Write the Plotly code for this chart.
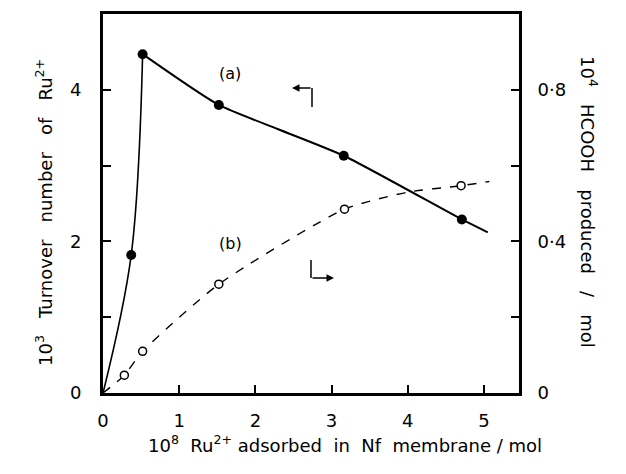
import plotly.graph_objects as go

# (a) Turnover number (left axis, 10^3), filled circles
a_x = [0.37, 0.52, 1.52, 3.16, 4.71]
a_y = [1.82, 4.47, 3.80, 3.13, 2.29]
# drawn curve for (a): rising branch and falling branch
a_rise_x = [0.0, 0.37, 0.52]
a_rise_y = [0.0, 1.82, 4.47]
a_fall_x = [0.52, 1.52, 2.3, 3.16, 4.71, 5.05]
a_fall_y = [4.47, 3.80, 3.48, 3.13, 2.29, 2.12]

# (b) HCOOH produced (right axis, 10^4 mol), open circles
b_x = [0.28, 0.52, 1.52, 3.17, 4.70]
b_y = [0.047, 0.11, 0.287, 0.485, 0.547]
b_curve_x = [0.0, 0.28, 0.52, 1.52, 3.17, 4.0, 4.70, 5.07]
b_curve_y = [0.0, 0.047, 0.11, 0.287, 0.485, 0.53, 0.547, 0.558]

x_ticks = [0, 1, 2, 3, 4, 5]
y_ticks = [0, 1, 2, 3, 4]
y_ticktext = ["0", "", "2", "", "4"]
y2_ticks = [0, 0.2, 0.4, 0.6, 0.8]
y2_ticktext = ["0", "", "0·4", "", "0·8"]

FONT = "DejaVu Sans"
FS = 18
XMAX, YMAX = 5.46, 5.0
fig = go.Figure()
fig.add_trace(go.Scatter(x=a_rise_x, y=a_rise_y, mode="lines", line=dict(color="black", width=1.6, shape="spline", smoothing=1.0), showlegend=False))
fig.add_trace(go.Scatter(x=a_fall_x, y=a_fall_y, mode="lines", line=dict(color="black", width=2, shape="spline", smoothing=0.6), showlegend=False))
fig.add_trace(go.Scatter(x=a_x, y=a_y, mode="markers", marker=dict(color="black", size=10), showlegend=False))
fig.add_trace(go.Scatter(x=b_curve_x, y=b_curve_y, yaxis="y2", mode="lines", line=dict(color="black", width=1.4, dash="dash", shape="spline", smoothing=0.6), showlegend=False))
fig.add_trace(go.Scatter(x=b_x, y=b_y, yaxis="y2", mode="markers", marker=dict(color="white", size=8, line=dict(color="black", width=1.5)), showlegend=False))

axis_common = dict(showgrid=False, zeroline=False, showline=True, linecolor="black", linewidth=3,
                   ticks="inside", ticklen=8, tickwidth=1.5, tickcolor="black",
                   tickfont=dict(family=FONT, size=FS, color="black"))
fig.update_layout(
    width=626, height=474,
    margin=dict(l=103, r=107, t=14, b=81),
    plot_bgcolor="white", paper_bgcolor="white",
    xaxis=dict(range=[0, XMAX], tickvals=x_ticks, ticktext=[str(v) for v in x_ticks], mirror=True, ticklabelstandoff=9, **axis_common),
    yaxis=dict(range=[0, YMAX], tickvals=y_ticks, ticktext=y_ticktext, mirror=True, ticklabelstandoff=15, **axis_common),
    yaxis2=dict(range=[0, 1.0], overlaying="y", side="right", tickvals=y2_ticks, ticktext=y2_ticktext, ticklabelstandoff=12, **axis_common),
)

def px2paper(px, py):
    return (px - 103) / 416, (393 - py) / 379

def px2data(px, py):
    return (px - 103) / 416 * XMAX, (393 - py) / 379 * YMAX

ann = []
x, y = px2paper(30, 213)
ann.append(dict(x=x, y=y, xref="paper", yref="paper", text="10<sup>3</sup>   Turnover   number   of   Ru<sup>2+</sup>", textangle=-90, showarrow=False, font=dict(family=FONT, size=FS, color="black")))
x, y = px2paper(603, 202)
ann.append(dict(x=x, y=y, xref="paper", yref="paper", text="10<sup>4</sup>   HCOOH   produced   /   mol", textangle=90, showarrow=False, font=dict(family=FONT, size=FS, color="black")))
x, y = px2paper(345, 458)
ann.append(dict(x=x, y=y, xref="paper", yref="paper", text="10<sup>8</sup>  Ru<sup>2+</sup> adsorbed  in  Nf  membrane / mol", showarrow=False, font=dict(family=FONT, size=FS, color="black")))
ann.append(dict(x=1.67, y=4.21, xref="x", yref="y", text="(a)", showarrow=False, font=dict(family=FONT, size=16, color="black")))
ann.append(dict(x=1.67, y=1.97, xref="x", yref="y", text="(b)", showarrow=False, font=dict(family=FONT, size=16, color="black")))
# bent arrows
ax0, ay0 = px2data(312, 88)
ax1, ay1 = px2data(292, 88)
ann.append(dict(x=ax1, y=ay1, ax=ax0, ay=ay0, xref="x", yref="y", axref="x", ayref="y", text="", showarrow=True, arrowhead=2, arrowsize=1, arrowwidth=1.5, arrowcolor="black"))
bx0, by0 = px2data(311, 278)
bx1, by1 = px2data(334, 278)
ann.append(dict(x=bx1, y=by1, ax=bx0, ay=by0, xref="x", yref="y", axref="x", ayref="y", text="", showarrow=True, arrowhead=2, arrowsize=1, arrowwidth=1.5, arrowcolor="black"))
fig.update_layout(annotations=ann)

v1 = px2data(312, 107)
v2 = px2data(311, 260)
fig.add_shape(type="line", xref="x", yref="y", x0=v1[0], y0=v1[1], x1=ax0, y1=ay0, line=dict(color="black", width=1.5))
fig.add_shape(type="line", xref="x", yref="y", x0=v2[0], y0=v2[1], x1=bx0, y1=by0, line=dict(color="black", width=1.5))

fig.write_html("out.html", config={"displayModeBar": False},
               post_script="document.body.style.margin='0';document.body.style.overflow='hidden';")
